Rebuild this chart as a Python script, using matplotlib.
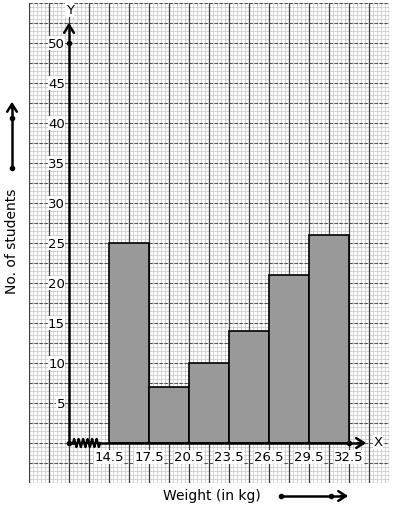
import matplotlib
matplotlib.use("Agg")
import matplotlib.pyplot as plt
import numpy as np

# ---- data ----
class_edges = [14.5, 17.5, 20.5, 23.5, 26.5, 29.5, 32.5]
students = [25, 7, 10, 14, 21, 26]
x_tick_labels = ["14.5", "17.5", "20.5", "23.5", "26.5", "29.5", "32.5"]
y_ticks = [5, 10, 15, 20, 25, 30, 35, 40, 45, 50]
x_label = "Weight (in kg)"
y_label = "No. of students"

W, H = 394, 510
fig = plt.figure(figsize=(W / 100, H / 100), dpi=100)
ax = fig.add_axes([29 / W, (H - 484) / H, 360 / W, 480 / H])

kpp = 3 / 40.0
x0 = 14.5 - (109 - 29) * kpp
x1 = 14.5 + (389 - 109) * kpp
ax.set_xlim(x0, x1)
ax.set_ylim(-5, 55)

def PX(px):
    return x0 + (px - 29) * kpp

def PY(py):
    return (444 - py) / 8.0

origin_x = PX(69)
FS = 9.5

# graph-paper grid
minor_x = np.arange(x0, x1 + 1e-6, 0.3)
major_x = np.arange(x0, x1 + 1e-6, 1.5)
minor_y = np.arange(-5, 55 + 1e-6, 0.5)
major_y = np.arange(-5, 55 + 1e-6, 2.5)
for v in minor_x:
    ax.axvline(v, color="#cacaca", lw=0.55, zorder=0)
for v in minor_y:
    ax.axhline(v, color="#cacaca", lw=0.55, zorder=0)
for v in major_x:
    ax.axvline(v, color="#3c3c3c", lw=0.9, zorder=0.5)
for v in major_y:
    ax.axhline(v, color="#505050", lw=0.8, ls=(0, (3, 1.5)), zorder=0.5)

for s in ax.spines.values():
    s.set_visible(False)
ax.set_xticks([])
ax.set_yticks([])

# histogram bars
widths = np.diff(class_edges)
ax.bar(class_edges[:-1], students, width=widths, align="edge",
       color="#999999", edgecolor="black", linewidth=1.2, zorder=2)

# y axis with arrow
ax.plot([origin_x, origin_x], [0, PY(26)], color="black", lw=1.8, zorder=3,
        solid_capstyle="butt")
ax.annotate("", xy=(origin_x, PY(21)), xytext=(origin_x, PY(30)),
            arrowprops=dict(arrowstyle="->,head_length=0.55,head_width=0.35",
                            color="black", lw=1.8), zorder=3)
ax.text(origin_x + 0.05, PY(11), "Y", ha="center", va="center", fontsize=FS,
        zorder=4, bbox=dict(facecolor="white", edgecolor="none", pad=0.3))

# x axis with break zigzag
n = 25
zx = np.linspace(PX(73), PX(100), n)
idx = np.arange(n)
zy = np.where(idx % 2 == 1, np.where(idx % 4 == 1, 0.5, -0.5), 0.0)
ax.plot([origin_x, PX(73)], [0, 0], color="black", lw=1.8, zorder=3)
ax.plot(zx, zy, color="black", lw=1.7, zorder=3)
ax.plot([PX(100), PX(362)], [0, 0], color="black", lw=1.8, zorder=3)
ax.annotate("", xy=(PX(369), 0), xytext=(PX(355), 0),
            arrowprops=dict(arrowstyle="->,head_length=0.55,head_width=0.35",
                            color="black", lw=1.8), zorder=3)
ax.text(PX(378), PY(443), "X", ha="center", va="center", fontsize=FS, zorder=4,
        bbox=dict(facecolor="white", edgecolor="none", pad=0.3))

# dots
ax.plot([origin_x, origin_x, class_edges[-1]], [0, y_ticks[-1], 0], "o",
        color="black", ms=3, zorder=4)

# tick labels
for v in y_ticks:
    ax.text(PX(65), v, str(v), ha="right", va="center", fontsize=FS, zorder=4,
            bbox=dict(facecolor="white", edgecolor="none", pad=0.2))
for e, lab in zip(class_edges, x_tick_labels):
    ax.text(e, PY(458), lab, ha="center", va="center", fontsize=FS, zorder=4,
            bbox=dict(facecolor="white", edgecolor="none", pad=0.2))

# axis titles and direction arrows outside the paper
fig.text(12 / W, 1 - 241 / H, y_label, rotation=90, ha="center", va="center",
         fontsize=10)
fig.text(212 / W, 1 - 496 / H, x_label, ha="center", va="center", fontsize=10)

ax.plot([PX(12), PX(12)], [PY(169), PY(108)], color="black", lw=1.8,
        clip_on=False, zorder=3)
ax.annotate("", xy=(PX(12), PY(100)), xytext=(PX(12), PY(112)),
            arrowprops=dict(arrowstyle="->,head_length=0.55,head_width=0.35",
                            color="black", lw=1.8), annotation_clip=False)
ax.plot([PX(12), PX(12)], [PY(169), PY(119)], "o", color="black", ms=3,
        clip_on=False, zorder=4)

ax.plot([PX(281), PX(343)], [PY(497), PY(497)], color="black", lw=1.8,
        clip_on=False, zorder=3)
ax.annotate("", xy=(PX(351), PY(497)), xytext=(PX(338), PY(497)),
            arrowprops=dict(arrowstyle="->,head_length=0.55,head_width=0.35",
                            color="black", lw=1.8), annotation_clip=False)
ax.plot([PX(281), PX(331)], [PY(497), PY(497)], "o", color="black", ms=3,
        clip_on=False, zorder=4)

fig.savefig("out.png", dpi=100)
